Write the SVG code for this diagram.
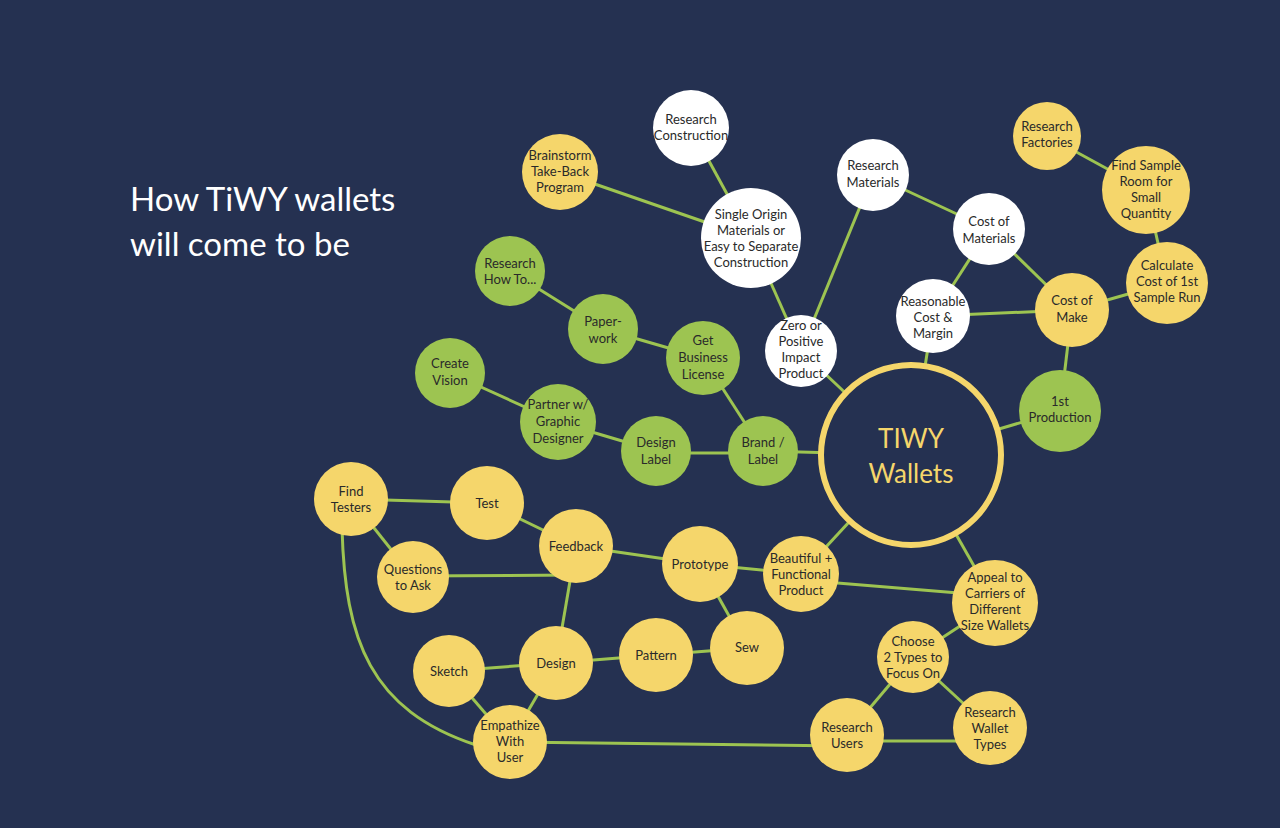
<svg xmlns="http://www.w3.org/2000/svg" width="1280" height="828" viewBox="0 0 1280 828">
<style>
.y{fill:#f5d66b}.g{fill:#9dc451}.w{fill:#ffffff}
text{font-family:Lato,"Open Sans",sans-serif;font-size:13px;fill:#2a2a2a;text-anchor:middle}
.e line,.e path{stroke:#9dc451;stroke-width:3;fill:none}
</style>
<rect width="1280" height="828" fill="#253151"/>
<text x="130" y="211" style="font-size:33px;fill:#fff;text-anchor:start">How TiWY wallets</text>
<text x="130" y="256" style="font-size:33px;fill:#fff;text-anchor:start">will come to be</text>
<g class="e">
<line x1="691" y1="128" x2="751" y2="238"/>
<line x1="560" y1="172" x2="751" y2="238"/>
<line x1="751" y1="238" x2="801" y2="351"/>
<line x1="873" y1="175" x2="801" y2="351"/>
<line x1="873" y1="175" x2="989" y2="229"/>
<line x1="801" y1="351" x2="911" y2="455"/>
<line x1="989" y1="229" x2="933" y2="316"/>
<line x1="989" y1="229" x2="1072" y2="310"/>
<line x1="933" y1="316" x2="1072" y2="310"/>
<line x1="933" y1="316" x2="911" y2="455"/>
<line x1="1047" y1="136" x2="1146" y2="190"/>
<line x1="1146" y1="190" x2="1167" y2="283"/>
<line x1="1167" y1="283" x2="1072" y2="310"/>
<line x1="1072" y1="310" x2="1060" y2="411"/>
<line x1="1060" y1="411" x2="911" y2="455"/>
<line x1="510" y1="271" x2="603" y2="329"/>
<line x1="603" y1="329" x2="703" y2="358"/>
<line x1="703" y1="358" x2="763" y2="451"/>
<line x1="450" y1="373" x2="558" y2="422"/>
<line x1="558" y1="422" x2="656" y2="451"/>
<line x1="656" y1="453" x2="763" y2="453"/>
<line x1="763" y1="451" x2="911" y2="455"/>
<line x1="351" y1="499" x2="487" y2="503"/>
<line x1="351" y1="499" x2="413" y2="577"/>
<line x1="487" y1="503" x2="576" y2="546"/>
<line x1="413" y1="576" x2="576" y2="575"/>
<line x1="576" y1="546" x2="700" y2="564"/>
<line x1="576" y1="546" x2="556" y2="663"/>
<line x1="700" y1="564" x2="801" y2="574"/>
<line x1="700" y1="564" x2="747" y2="648"/>
<line x1="801" y1="574" x2="911" y2="455"/>
<line x1="801" y1="580" x2="995" y2="596"/>
<line x1="911" y1="455" x2="995" y2="603"/>
<line x1="995" y1="603" x2="913" y2="657"/>
<line x1="913" y1="657" x2="847" y2="735"/>
<line x1="913" y1="657" x2="990" y2="728"/>
<line x1="556" y1="663" x2="656" y2="655"/>
<line x1="656" y1="655" x2="747" y2="648"/>
<line x1="449" y1="671" x2="556" y2="663"/>
<line x1="449" y1="671" x2="510" y2="742"/>
<line x1="556" y1="663" x2="510" y2="742"/>
<path d="M342,528 C345,640 370,710 476,745"/>
<line x1="510" y1="742" x2="847" y2="746"/>
<line x1="847" y1="741" x2="990" y2="741"/>
</g>
<g id="n-rc"><circle cx="691" cy="128" r="38" class="w"/><text x="691" y="124">Research</text><text x="691" y="140">Construction</text></g>
<g id="n-bt"><circle cx="560" cy="172" r="38" class="y"/><text x="560" y="160">Brainstorm</text><text x="560" y="176">Take-Back</text><text x="560" y="192">Program</text></g>
<g id="n-so"><circle cx="751" cy="238" r="50" class="w"/><text x="751" y="219">Single Origin</text><text x="751" y="235">Materials or</text><text x="751" y="251">Easy to Separate</text><text x="751" y="267">Construction</text></g>
<g id="n-rm"><circle cx="873" cy="175" r="36" class="w"/><text x="873" y="170">Research</text><text x="873" y="187">Materials</text></g>
<g id="n-rf"><circle cx="1047" cy="136" r="34" class="y"/><text x="1047" y="131">Research</text><text x="1047" y="147">Factories</text></g>
<g id="n-fs"><circle cx="1146" cy="190" r="44" class="y"/><text x="1146" y="170">Find Sample</text><text x="1146" y="186">Room for</text><text x="1146" y="202">Small</text><text x="1146" y="218">Quantity</text></g>
<g id="n-cm"><circle cx="989" cy="229" r="36" class="w"/><text x="989" y="226">Cost of</text><text x="989" y="243">Materials</text></g>
<g id="n-rcm"><circle cx="933" cy="316" r="37" class="w"/><text x="933" y="306">Reasonable</text><text x="933" y="322">Cost &amp;</text><text x="933" y="338">Margin</text></g>
<g id="n-com"><circle cx="1072" cy="310" r="37" class="y"/><text x="1072" y="305">Cost of</text><text x="1072" y="322">Make</text></g>
<g id="n-cc"><circle cx="1167" cy="283" r="41" class="y"/><text x="1167" y="270">Calculate</text><text x="1167" y="286">Cost of 1st</text><text x="1167" y="302">Sample Run</text></g>
<g id="n-zp"><circle cx="801" cy="351" r="36" class="w"/><text x="801" y="330">Zero or</text><text x="801" y="346">Positive</text><text x="801" y="362">Impact</text><text x="801" y="378">Product</text></g>
<g id="n-tiwy"><circle cx="911" cy="455" r="90" fill="#253151" stroke="#f5d66b" stroke-width="6"/><text x="911" y="448" style="font-size:26px;fill:#f5d66b">TIWY</text><text x="911" y="483" style="font-size:26px;fill:#f5d66b">Wallets</text></g>
<g id="n-1p"><circle cx="1060" cy="411" r="41" class="g"/><text x="1060" y="406">1st</text><text x="1060" y="422">Production</text></g>
<g id="n-rh"><circle cx="510" cy="271" r="35" class="g"/><text x="510" y="268">Research</text><text x="510" y="284">How To...</text></g>
<g id="n-pw"><circle cx="603" cy="329" r="35" class="g"/><text x="603" y="326">Paper-</text><text x="603" y="343">work</text></g>
<g id="n-gb"><circle cx="703" cy="358" r="37" class="g"/><text x="703" y="345">Get</text><text x="703" y="362">Business</text><text x="703" y="379">License</text></g>
<g id="n-cv"><circle cx="450" cy="373" r="35" class="g"/><text x="450" y="368">Create</text><text x="450" y="385">Vision</text></g>
<g id="n-pg"><circle cx="558" cy="422" r="38" class="g"/><text x="558" y="409">Partner w/</text><text x="558" y="426">Graphic</text><text x="558" y="443">Designer</text></g>
<g id="n-dl"><circle cx="656" cy="451" r="35" class="g"/><text x="656" y="447">Design</text><text x="656" y="464">Label</text></g>
<g id="n-bl"><circle cx="763" cy="451" r="35" class="g"/><text x="763" y="447">Brand /</text><text x="763" y="464">Label</text></g>
<g id="n-ft"><circle cx="351" cy="499" r="37" class="y"/><text x="351" y="496">Find</text><text x="351" y="512">Testers</text></g>
<g id="n-te"><circle cx="487" cy="503" r="37" class="y"/><text x="487" y="508">Test</text></g>
<g id="n-qa"><circle cx="413" cy="577" r="36" class="y"/><text x="413" y="574">Questions</text><text x="413" y="590">to Ask</text></g>
<g id="n-fb"><circle cx="576" cy="546" r="37" class="y"/><text x="576" y="551">Feedback</text></g>
<g id="n-pr"><circle cx="700" cy="564" r="38" class="y"/><text x="700" y="569">Prototype</text></g>
<g id="n-bf"><circle cx="801" cy="574" r="38" class="y"/><text x="801" y="563">Beautiful +</text><text x="801" y="579">Functional</text><text x="801" y="595">Product</text></g>
<g id="n-ap"><circle cx="995" cy="603" r="43" class="y"/><text x="995" y="582">Appeal to</text><text x="995" y="598">Carriers of</text><text x="995" y="614">Different</text><text x="995" y="630">Size Wallets</text></g>
<g id="n-sw"><circle cx="747" cy="648" r="37" class="y"/><text x="747" y="652">Sew</text></g>
<g id="n-pa"><circle cx="656" cy="655" r="37" class="y"/><text x="656" y="660">Pattern</text></g>
<g id="n-de"><circle cx="556" cy="663" r="37" class="y"/><text x="556" y="668">Design</text></g>
<g id="n-sk"><circle cx="449" cy="671" r="36" class="y"/><text x="449" y="676">Sketch</text></g>
<g id="n-em"><circle cx="510" cy="742" r="37" class="y"/><text x="510" y="730">Empathize</text><text x="510" y="746">With</text><text x="510" y="762">User</text></g>
<g id="n-ch"><circle cx="913" cy="657" r="36" class="y"/><text x="913" y="646">Choose</text><text x="913" y="662">2 Types to</text><text x="913" y="678">Focus On</text></g>
<g id="n-ru"><circle cx="847" cy="735" r="37" class="y"/><text x="847" y="732">Research</text><text x="847" y="748">Users</text></g>
<g id="n-rw"><circle cx="990" cy="728" r="37" class="y"/><text x="990" y="717">Research</text><text x="990" y="733">Wallet</text><text x="990" y="749">Types</text></g>
</svg>
